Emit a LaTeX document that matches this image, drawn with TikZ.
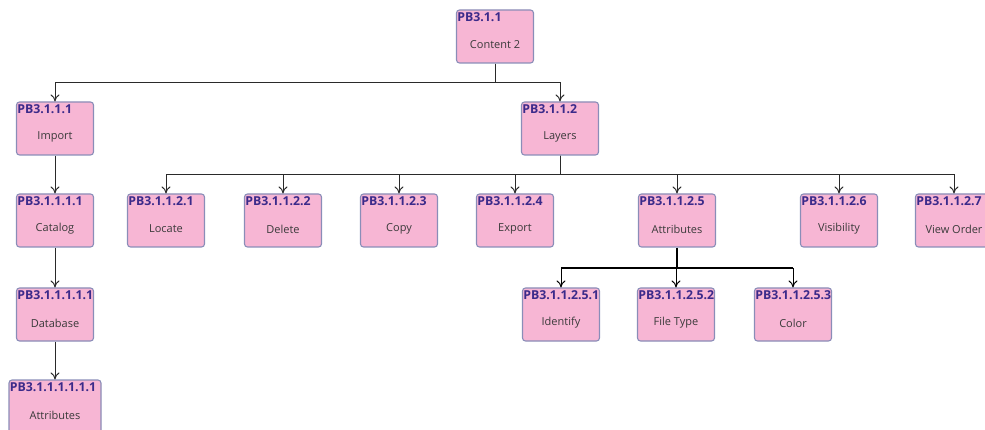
\documentclass[tikz,border=0pt]{standalone}
\usepackage{fontspec}
\setmainfont{Open Sans}
\usetikzlibrary{arrows.meta}
\definecolor{boxfill}{HTML}{F7B6D4}
\definecolor{boxline}{HTML}{8A8DB8}
\definecolor{idcol}{HTML}{3B2A8A}
\definecolor{lblcol}{HTML}{3A3A3A}
\definecolor{wire}{HTML}{2A2A2A}
\tikzset{
  box/.style={draw=boxline, line width=1.1pt, fill=boxfill, rounded corners=3pt,
    minimum height=53pt, inner sep=0pt},
  idtext/.style={text=idcol, font=\fontsize{12.3}{13}\selectfont\bfseries, inner sep=0pt},
  lbltext/.style={text=lblcol, font=\fontsize{11}{13}\selectfont, inner sep=0pt},
  arr/.style={draw=wire, line width=0.9pt, -{To[length=7pt,width=9pt,line width=1pt]}},
  fan/.style={draw=black, line width=1.6pt},
}
% #1 name, #2 centre x, #3 top y, #4 width, #5 id, #6 caption
\newcommand\pbbox[6]{%
  \node[box, minimum width=#4pt] (#1) at (#2, {#3+26.5}) {};
  \node[idtext, anchor=north west] (#1-id) at ([xshift=1.3pt,yshift=-3pt]#1.north west) {#5};
  \node[lbltext] (#1-lbl) at ([yshift=-8.5pt]#1.center) {#6};
}
\begin{document}
\begin{tikzpicture}[x=1pt,y=-1pt]
\useasboundingbox (0,0) rectangle (985,430);

% root and first level
\pbbox{root}{495}{10}{77}{PB3.1.1}{Content 2}
\pbbox{imp}{55}{102}{77}{PB3.1.1.1}{Import}
\pbbox{lay}{560}{102}{77}{PB3.1.1.2}{Layers}

% import chain
\pbbox{cat}{55}{194}{77}{PB3.1.1.1.1}{Catalog}
\pbbox{db}{55}{288}{77}{PB3.1.1.1.1.1}{Database}
\pbbox{att}{55}{380}{92}{PB3.1.1.1.1.1.1}{Attributes}

% layers children
\pbbox{loc}{166}{194}{77}{PB3.1.1.2.1}{Locate}
\pbbox{del}{283}{194}{77}{PB3.1.1.2.2}{Delete}
\pbbox{cpy}{399}{194}{77}{PB3.1.1.2.3}{Copy}
\pbbox{exp}{515}{194}{77}{PB3.1.1.2.4}{Export}
\pbbox{lat}{677}{194}{77}{PB3.1.1.2.5}{Attributes}
\pbbox{vis}{839}{194}{77}{PB3.1.1.2.6}{Visibility}
\pbbox{vo}{954}{194}{77}{PB3.1.1.2.7}{View Order}

% attribute children
\pbbox{idf}{561}{288}{77}{PB3.1.1.2.5.1}{Identify}
\pbbox{ft}{676}{288}{77}{PB3.1.1.2.5.2}{File Type}
\pbbox{col}{793}{288}{77}{PB3.1.1.2.5.3}{Color}

% bus lines
\coordinate (busA) at (0,82);
\coordinate (busB) at (0,174);
\coordinate (busC) at (0,268);

\foreach \c in {imp,lay}
  \draw[arr] (root.south) -- (root.south |- busA) -| (\c.north);
\foreach \c in {loc,del,cpy,exp,lat,vis,vo}
  \draw[arr] (lay.south) -- (lay.south |- busB) -| (\c.north);
\draw[fan] (lat.south) -- (lat.south |- busC);
\draw[fan] (idf.north |- busC) -- (col.north |- busC);
\foreach \c in {idf,ft,col}
  \draw[arr, draw=black] (\c.north |- busC) -- (\c.north);

\draw[arr] (imp.south) -- (cat.north);
\draw[arr] (cat.south) -- (db.north);
\draw[arr] (db.south) -- (att.north);
\end{tikzpicture}
\end{document}
